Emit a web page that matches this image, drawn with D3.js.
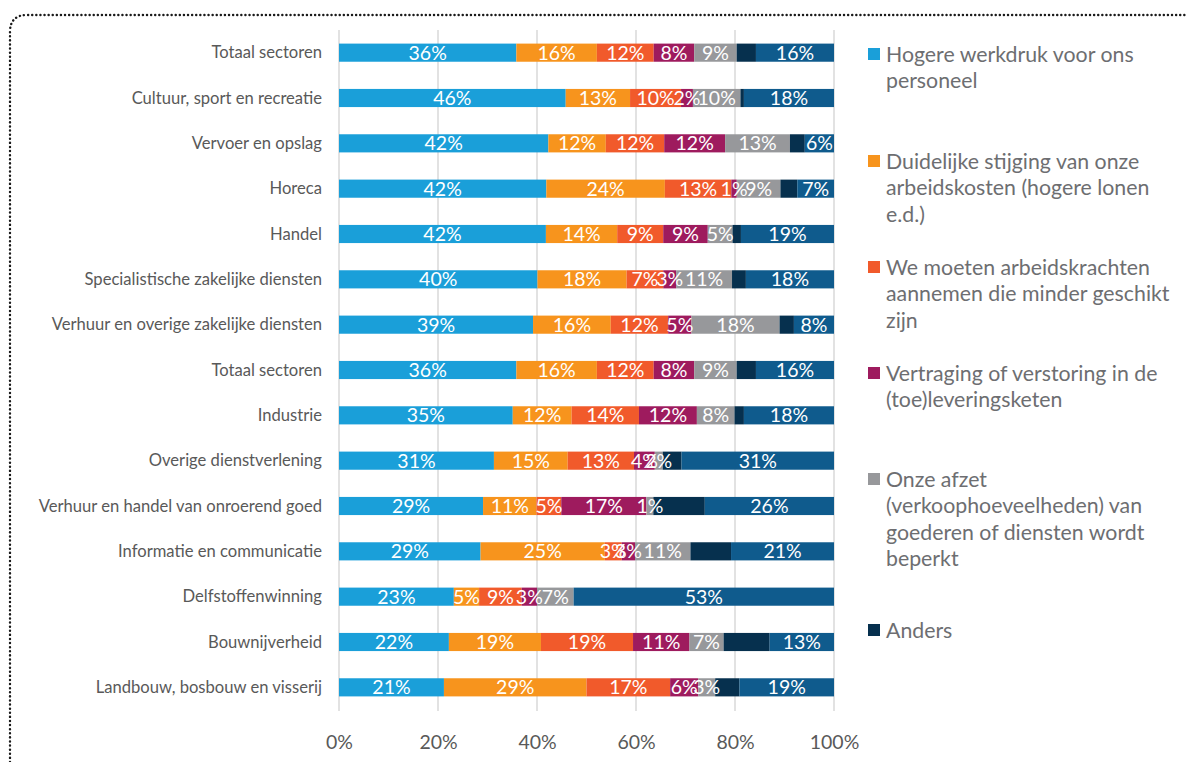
<!DOCTYPE html>
<html>
<head>
<meta charset="utf-8">
<script src="https://cdn.jsdelivr.net/npm/d3@7"></script>
<style>
  html, body { margin: 0; padding: 0; background: #fff; }
  svg { display: block; }
  text { font-family: Lato, "Open Sans", sans-serif; }
</style>
</head>
<body>
<svg id="chart" width="1187" height="762"></svg>
<script>
// ---------- data ----------
const categories = [
  "Totaal sectoren",
  "Cultuur, sport en recreatie",
  "Vervoer en opslag",
  "Horeca",
  "Handel",
  "Specialistische zakelijke diensten",
  "Verhuur en overige zakelijke diensten",
  "Totaal sectoren ",
  "Industrie",
  "Overige dienstverlening",
  "Verhuur en handel van onroerend goed",
  "Informatie en communicatie",
  "Delfstoffenwinning",
  "Bouwnijverheid",
  "Landbouw, bosbouw en visserij"
];

const seriesNames = [
  "Hogere werkdruk voor ons personeel",
  "Duidelijke stijging van onze arbeidskosten (hogere lonen e.d.)",
  "We moeten arbeidskrachten aannemen die minder geschikt zijn",
  "Vertraging of verstoring in de (toe)leveringsketen",
  "Onze afzet (verkoophoeveelheden) van goederen of diensten wordt beperkt",
  "Anders",
  "Overig"
];

const werkdruk      = [35.9, 45.8, 42.3, 41.8, 41.8, 40.1, 39.2, 35.9, 35.1, 31.3, 29.1, 28.6, 23.2, 22.2, 21.2];
const arbeidskosten = [16.3, 13.0, 11.6, 23.9, 14.4, 18.0, 15.7, 16.3, 11.9, 14.9, 10.8, 25.1,  5.1, 18.6, 28.8];
const minderGeschikt= [11.5, 10.3, 11.8, 13.4,  9.3,  7.4, 11.6, 11.5, 13.6, 13.4,  5.0,  3.4,  8.6, 18.6, 16.9];
const vertraging    = [ 8.2,  2.4, 12.3,  1.1,  9.0,  2.6,  4.7,  8.2, 11.7,  4.2, 17.2,  2.7,  3.1, 11.4,  5.7];
const afzet         = [ 8.6,  9.6, 13.1,  8.8,  5.0, 11.3, 17.8,  8.6,  7.6,  1.6,  1.4, 11.2,  7.4,  6.9,  3.4];
const anders        = [ 3.9,  0.7,  3.0,  3.4,  1.7,  2.8,  2.9,  3.9,  1.9,  3.8, 10.4,  8.2,  0.0,  9.3,  4.9];
const overig        = [15.8, 18.2,  5.9,  7.4, 18.8, 17.8,  8.1, 15.8, 18.2, 30.8, 26.1, 20.8, 52.6, 13.0, 19.1];

const seriesValues = [werkdruk, arbeidskosten, minderGeschikt, vertraging, afzet, anders, overig];

const xTicks = [0, 0.2, 0.4, 0.6, 0.8, 1.0];

const legendLines = [
  ["Hogere werkdruk voor ons", "personeel"],
  ["Duidelijke stijging van onze", "arbeidskosten (hogere lonen", "e.d.)"],
  ["We moeten arbeidskrachten", "aannemen die minder geschikt", "zijn"],
  ["Vertraging of verstoring in de", "(toe)leveringsketen"],
  ["Onze afzet", "(verkoophoeveelheden) van", "goederen of diensten wordt", "beperkt"],
  ["Anders"]
];

// ---------- styles ----------
const colors = ["#1a9fd9", "#f7941d", "#f15a2b", "#9e1b5e", "#97989b", "#06304e", "#0f5b8d"];
const labelled = [true, true, true, true, true, false, true];

// ---------- build ----------
const svg = d3.select("#chart");

// dotted frame
svg.append("path")
  .attr("d", "M 10 762 L 10 32 Q 10 15 27 15 L 1187 15")
  .attr("fill", "none")
  .attr("stroke", "#1a1a1a")
  .attr("stroke-width", 2.4)
  .attr("stroke-linecap", "round")
  .attr("stroke-dasharray", "0.1 4");

const keys = seriesNames.map((d, i) => "s" + i);
const rows = categories.map((c, r) => {
  const o = { cat: c };
  keys.forEach((k, i) => o[k] = seriesValues[i][r]);
  return o;
});

const stack = d3.stack().keys(keys).offset(d3.stackOffsetExpand);
const stacked = stack(rows);

const x = d3.scaleLinear().domain([0, 1]).range([339, 834]);
const y = d3.scaleBand().domain(categories).range([30, 710]).paddingInner(0.6).paddingOuter(0.3);

// gridlines
svg.append("g").selectAll("line").data(xTicks).join("line")
  .attr("x1", d => x(d)).attr("x2", d => x(d))
  .attr("y1", 30).attr("y2", 711)
  .attr("stroke", "#d9d9d9").attr("stroke-width", 1.5);

// bars
const groups = svg.append("g").selectAll("g").data(stacked).join("g")
  .attr("fill", (d, i) => colors[i]);

groups.selectAll("rect").data(d => d).join("rect")
  .attr("x", d => x(d[0]))
  .attr("y", d => y(d.data.cat))
  .attr("width", d => Math.max(0, x(d[1]) - x(d[0])))
  .attr("height", y.bandwidth());

// value labels
stacked.forEach((s, i) => {
  if (!labelled[i]) return;
  svg.append("g").selectAll("text")
    .data(s.filter(d => d.data[s.key] > 0))
    .join("text")
    .attr("x", d => (x(d[0]) + x(d[1])) / 2)
    .attr("y", d => y(d.data.cat) + y.bandwidth() / 2)
    .attr("dy", "0.36em")
    .attr("text-anchor", "middle")
    .attr("fill", "#ffffff")
    .attr("font-size", 19.5)
    .text(d => Math.round(d.data[s.key]) + "%");
});

// category axis labels
svg.append("g").selectAll("text").data(categories).join("text")
  .attr("x", 322)
  .attr("y", d => y(d) + y.bandwidth() / 2)
  .attr("dy", "0.35em")
  .attr("text-anchor", "end")
  .attr("fill", "#595959")
  .attr("font-size", 16.6)
  .text(d => d.trim());

// x axis tick labels
const xAxis = d3.axisBottom(x).tickValues(xTicks).tickFormat(d3.format(".0%")).tickSize(0).tickPadding(0);
const gx = svg.append("g").attr("transform", "translate(0,735)").call(xAxis);
gx.select(".domain").remove();
gx.selectAll("text")
  .attr("fill", "#595959")
  .attr("font-size", 19.5)
  .attr("font-family", "Lato, sans-serif");

// legend
const legendY = [54, 161, 267, 373, 479, 630];
const lg = svg.append("g");
legendLines.forEach((lines, i) => {
  const g = lg.append("g").attr("transform", `translate(868,${legendY[i]})`);
  g.append("rect").attr("x", 0).attr("y", -6).attr("width", 12).attr("height", 12)
    .attr("fill", colors[i]);
  const t = g.append("text").attr("x", 18).attr("y", 0)
    .attr("fill", "#6d6e71").attr("font-size", 21.3);
  lines.forEach((ln, j) => {
    t.append("tspan").attr("x", 18).attr("y", j * 26.5).attr("dy", "0.36em").text(ln);
  });
});
</script>
</body>
</html>
